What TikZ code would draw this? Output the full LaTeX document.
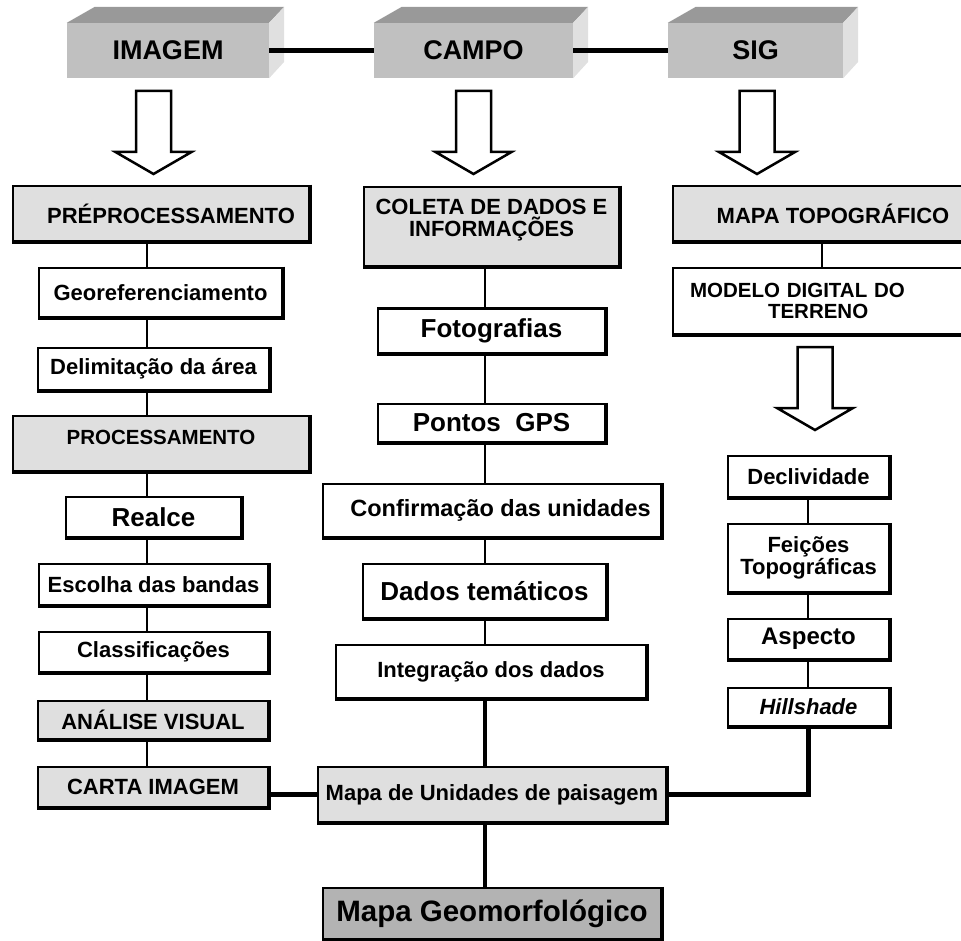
\documentclass[tikz,border=0pt]{standalone}
\usepackage{fontspec}
\setmainfont{Liberation Sans}
\usetikzlibrary{positioning}
\definecolor{boxgray}{HTML}{DFDFDF}
\definecolor{darkbox}{HTML}{B3B3B3}
\definecolor{frontgray}{HTML}{C0C0C0}
\definecolor{topgray}{HTML}{999999}
\definecolor{sidegray}{HTML}{E0E0E0}
\tikzset{
  procbox/.style={draw, line width=2.5pt, fill=white, inner sep=2pt, align=center,
    font=\bfseries\fontsize{22}{24}\selectfont},
  graybox/.style={procbox, fill=boxgray},
  largetext/.style={font=\bfseries\fontsize{26}{29}\selectfont},
  smalltext/.style={font=\bfseries\fontsize{20.5}{22}\selectfont},
  sourcebox/.style={fill=frontgray, inner sep=0pt, minimum height=55pt,
    font=\bfseries\fontsize{27}{30}\selectfont},
  link/.style={line width=2.5pt},
  biglink/.style={line width=4.5pt},
  hollowarrow/.pic={
    \draw[line width=2.5pt, fill=white] (-17.5,0) -- (17.5,0) -- (17.5,61) -- (38,61)
      -- (0,83) -- (-38,61) -- (-17.5,61) -- cycle;}
}
\begin{document}
\begin{tikzpicture}[x=1pt, y=-1pt]
    \useasboundingbox (0,0) rectangle (961,941);

    % Sources (3D blocks)
    \foreach \n/\cx/\w/\t in {imagem/168/202/IMAGEM, campo/473.5/199/CAMPO, sig/755.5/175/SIG} {
        \node[sourcebox, minimum width=\w pt] (\n) at (\cx,50.5) {\t};
        \fill[topgray] (\n.north west) -- ++(28,-16) -- ([shift={(15,-16)}]\n.north east) -- (\n.north east) -- cycle;
        \fill[sidegray] (\n.north east) -- ++(15,-16) -- ++(0,55) -- (\n.south east) -- cycle;
    }
    \draw[biglink] (imagem.east) -- (campo.west);
    \draw[biglink] (campo.east) -- (sig.west);

    % Hollow arrows
    \pic at (153.5,91) {hollowarrow};
    \pic at (473.5,91) {hollowarrow};
    \pic at (757,91) {hollowarrow};
    \pic at (815,347) {hollowarrow};

    % Image column
    \node[graybox, minimum width=296pt, minimum height=55pt] (pre) at (161,213.5) {\hspace*{20pt}PRÉPROCESSAMENTO};
    \node[procbox, minimum width=243pt, minimum height=49pt] (geo) at (160.5,292.5) {Georeferenciamento};
    \node[procbox, minimum width=231pt, minimum height=42pt] (delim) at (153.5,369) {Delimitação da área};
    \node[graybox, smalltext, minimum width=296pt, minimum height=55pt] (proc) at (161,443.5) {PROCESSAMENTO\\[-9pt]};
    \node[procbox, largetext, minimum width=175pt, minimum height=40pt] (realce) at (153.5,517) {Realce};
    \node[procbox, minimum width=229pt, minimum height=41pt] (escolha) at (153.5,584.5) {Escolha das bandas};
    \node[procbox, minimum width=229pt, minimum height=40pt] (classif) at (153.5,652) {Classificações};
    \node[graybox, minimum width=230pt, minimum height=38pt] (analise) at (153,720) {ANÁLISE VISUAL};
    \node[graybox, minimum width=230pt, minimum height=40pt] (carta) at (153,787) {CARTA IMAGEM};

    % Field column
    \node[graybox, font=\bfseries\fontsize{22}{22}\selectfont, minimum width=255pt, minimum height=79pt] (coleta) at (491.5,226.5) {COLETA DE DADOS E\\INFORMAÇÕES\\[-5pt]};
    \node[procbox, largetext, minimum width=227pt, minimum height=45pt] (foto) at (491.5,331) {Fotografias};
    \node[procbox, largetext, minimum width=227pt, minimum height=38pt] (gps) at (491.5,423) {Pontos~ GPS};
    \node[procbox, font=\bfseries\fontsize{23.5}{26}\selectfont, minimum width=338pt, minimum height=53pt] (confirm) at (492,510.5) {\hspace*{17pt}Confirmação das unidades};
    \node[procbox, largetext, minimum width=243pt, minimum height=54pt] (dados) at (484.5,591) {Dados temáticos};
    \node[procbox, minimum width=310pt, minimum height=53pt] (integ) at (491,671.5) {Integração dos dados};
    \node[graybox, minimum width=348pt, minimum height=55pt] (mapaun) at (492,794.5) {Mapa de Unidades de paisagem};
    \node[procbox, fill=darkbox, font=\bfseries\fontsize{29.5}{32}\selectfont, minimum width=338pt, minimum height=51pt] (geomorf) at (492,913.5) {Mapa Geomorfológico};

    % GIS column
    \node[graybox, minimum width=320pt, minimum height=55pt] (topo) at (833,213.5) {MAPA TOPOGRÁFICO};
    \node[procbox, font=\bfseries\fontsize{20.5}{21}\selectfont, align=left, inner xsep=17pt, text width=286pt, minimum height=66pt] (modelo) at (833,301) {MODELO DIGITAL DO\\\hspace*{78pt}TERRENO};
    \node[procbox, minimum width=161pt, minimum height=41pt] (decl) at (808.5,476.5) {Declividade};
    \node[procbox, font=\bfseries\fontsize{22}{22}\selectfont, minimum width=161pt, minimum height=68pt] (feicoes) at (808.5,558) {Feições\\Topográficas};
    \node[procbox, font=\bfseries\fontsize{24}{26}\selectfont, minimum width=161pt, minimum height=40pt] (aspecto) at (808.5,639) {Aspecto};
    \node[procbox, font=\bfseries\itshape\fontsize{22}{24}\selectfont, minimum width=161pt, minimum height=38pt] (hill) at (808.5,707) {Hillshade};

    % Heavier right and bottom edges
    \foreach \n in {pre,geo,delim,proc,realce,escolha,classif,analise,carta,coleta,foto,gps,confirm,dados,integ,mapaun,geomorf,topo,modelo,decl,feicoes,aspecto,hill}
        \draw[line width=3pt] (\n.north east) |- (\n.south west);

    % Links
    \coordinate (lx) at (147,0);
    \coordinate (cx) at (485,0);
    \coordinate (rx) at (808,0);
    \coordinate (tx) at (822,0);
    \foreach \a/\b in {pre/geo, geo/delim, delim/proc, proc/realce, realce/escolha, escolha/classif, classif/analise, analise/carta}
        \draw[link] (\a.south -| lx) -- (\b.north -| lx);
    \foreach \a/\b in {coleta/foto, foto/gps, gps/confirm, confirm/dados, dados/integ}
        \draw[link] (\a.south -| cx) -- (\b.north -| cx);
    \foreach \a/\b in {decl/feicoes, feicoes/aspecto, aspecto/hill}
        \draw[link] (\a.south -| rx) -- (\b.north -| rx);
    \draw[link] (topo.south -| tx) -- (modelo.north -| tx);
    \draw[biglink] (integ.south -| cx) -- (mapaun.north -| cx);
    \draw[biglink] (mapaun.south -| cx) -- (geomorf.north -| cx);
    \draw[biglink] (carta.east |- mapaun.west) -- (mapaun.west);
    \draw[biglink] (hill.south) |- (mapaun.east);
\end{tikzpicture}
\end{document}
